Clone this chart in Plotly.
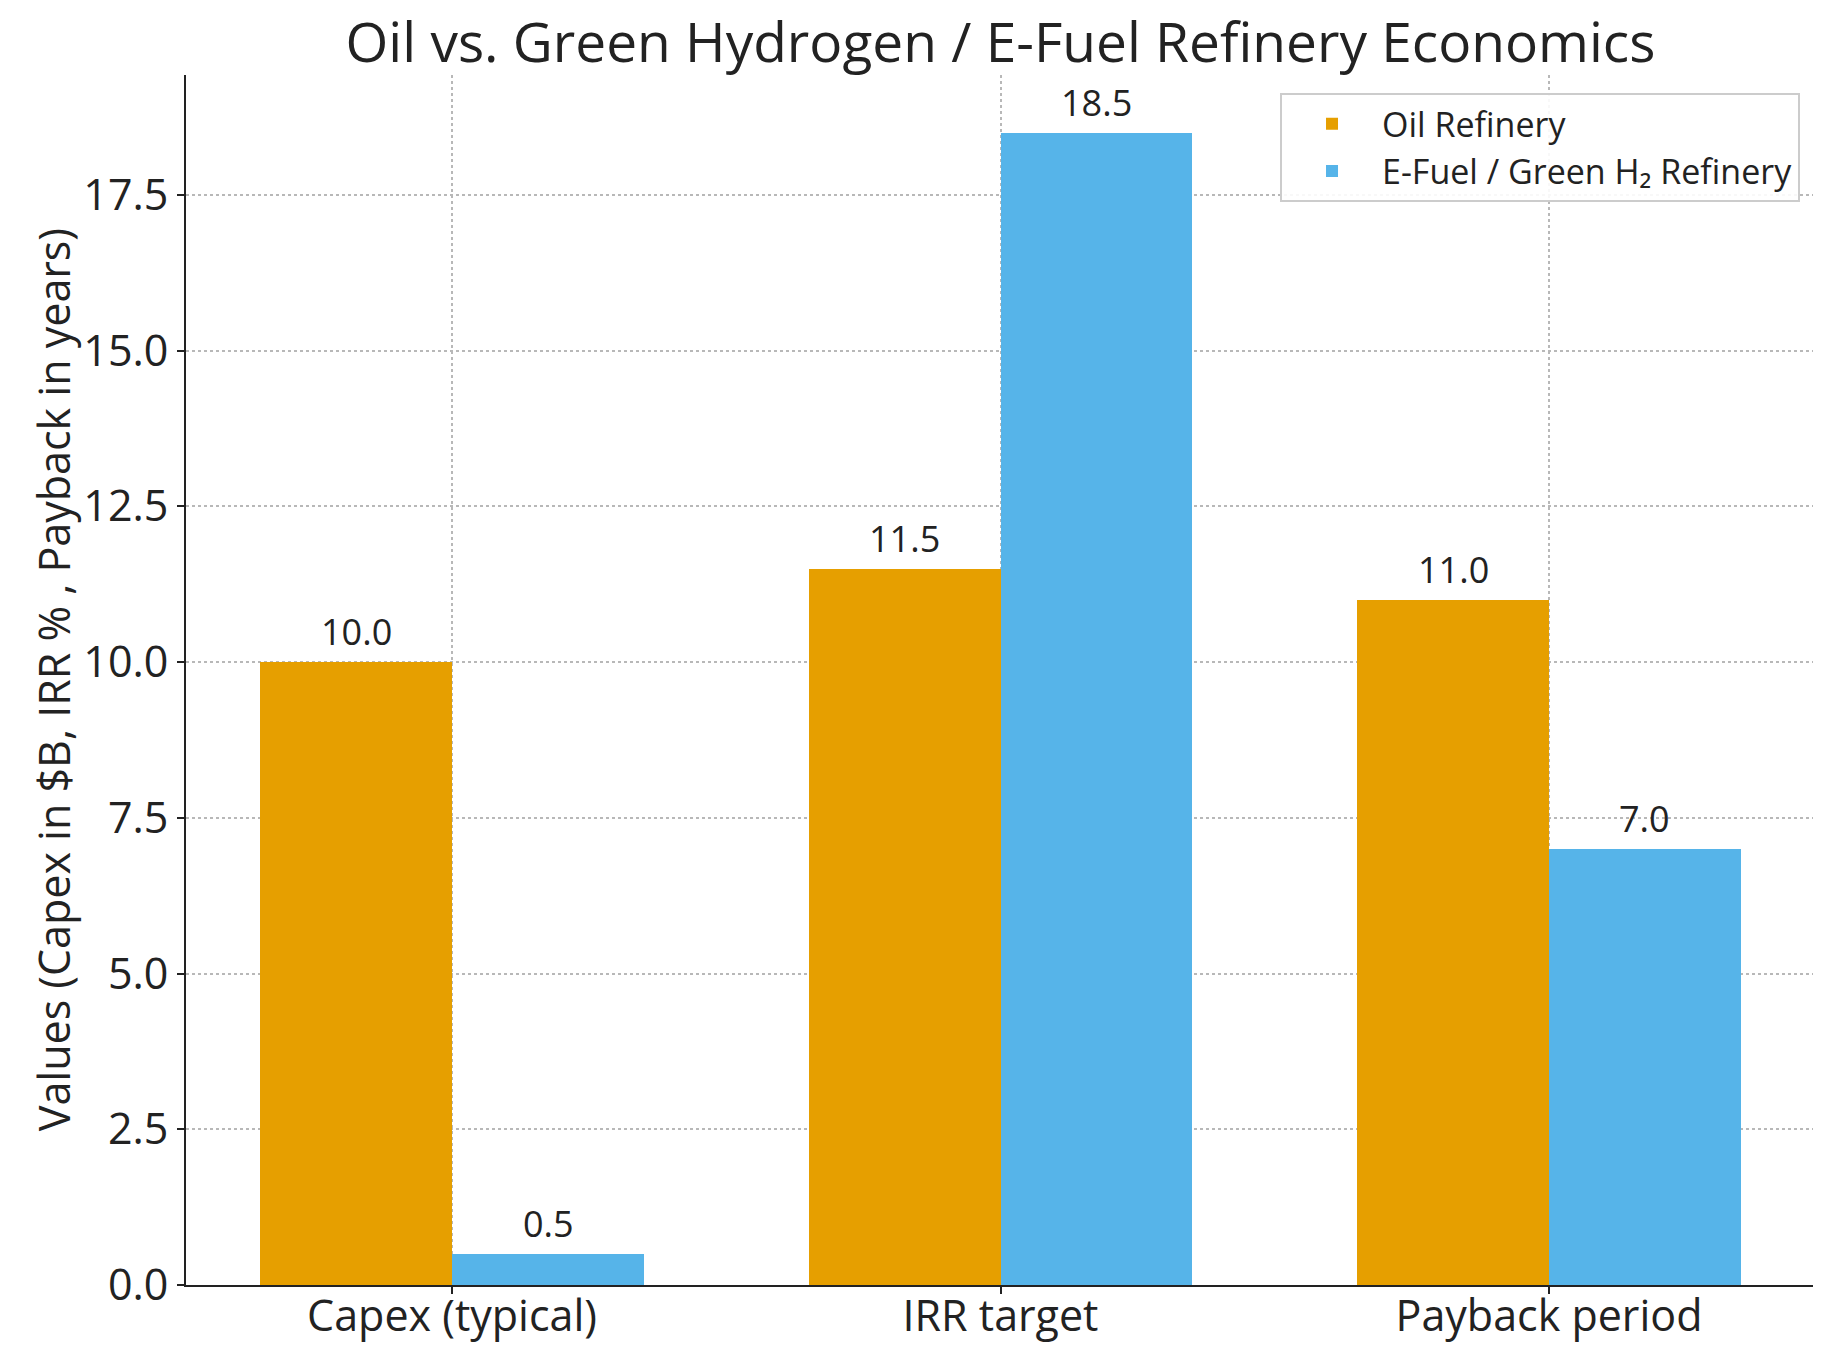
import plotly.graph_objects as go

categories = ["Capex (typical)", "IRR target", "Payback period"]
oil_values = [10.0, 11.5, 11.0]
efuel_values = [0.5, 18.5, 7.0]
series_names = ["Oil Refinery", "E-Fuel / Green H₂ Refinery"]
y_ticks = [0.0, 2.5, 5.0, 7.5, 10.0, 12.5, 15.0, 17.5]

ORANGE = "#E69F00"
BLUE = "#56B4E9"
FONT = "Open Sans"
BAR_W = 0.35

x_pos = list(range(len(categories)))

fig = go.Figure()
fig.add_trace(go.Bar(x=x_pos, y=oil_values, width=BAR_W, offset=-BAR_W,
                     name=series_names[0], marker=dict(color=ORANGE, line=dict(width=0))))
fig.add_trace(go.Bar(x=x_pos, y=efuel_values, width=BAR_W, offset=0,
                     name=series_names[1], marker=dict(color=BLUE, line=dict(width=0))))

annotations = []
for i, v in enumerate(oil_values):
    annotations.append(dict(x=x_pos[i] - BAR_W / 2, y=v, xref="x", yref="y",
                            text=f"{v:.1f}", showarrow=False, yanchor="bottom",
                            yshift=4, font=dict(family=FONT, size=36, color="#222")))
for i, v in enumerate(efuel_values):
    annotations.append(dict(x=x_pos[i] + BAR_W / 2, y=v, xref="x", yref="y",
                            text=f"{v:.1f}", showarrow=False, yanchor="bottom",
                            yshift=4, font=dict(family=FONT, size=36, color="#222")))
annotations.append(dict(x=-0.0815, y=0.5, xref="paper", yref="paper",
                        text="Values (Capex in $B, IRR % , Payback in years)",
                        textangle=-90, showarrow=False, xanchor="center", yanchor="middle",
                        font=dict(family=FONT, size=43, color="#222")))

fig.update_layout(
    width=1821, height=1345,
    margin=dict(l=178, r=14, t=67, b=68, autoexpand=False),
    paper_bgcolor="white", plot_bgcolor="white",
    title=dict(text="Oil vs. Green Hydrogen / E-Fuel Refinery Economics",
               x=0.5, xref="paper", xanchor="center", y=1 - 35 / 1345, yanchor="middle",
               font=dict(family=FONT, size=55, color="#222")),
    font=dict(family=FONT, color="#222"),
    showlegend=True,
    legend=dict(x=0.9908, y=0.985, xanchor="right", yanchor="top",
                bgcolor="rgba(255,255,255,0.9)", bordercolor="#cccccc", borderwidth=2,
                font=dict(family=FONT, size=34, color="#222"), itemwidth=90,
                tracegroupgap=2),
    annotations=annotations,
    bargap=0,
)
fig.update_xaxes(range=[-0.485, 2.485], tickvals=x_pos, ticktext=categories,
                 showline=True, linecolor="#222", linewidth=2, automargin=False,
                 ticks="outside", ticklen=7, tickcolor="#222", tickwidth=2,
                 ticklabelstandoff=-15,
                 showgrid=True, gridcolor="#b8b8b8", griddash="dot", gridwidth=1.5,
                 zeroline=False, tickfont=dict(family=FONT, size=43, color="#222"))
fig.update_yaxes(range=[0, 19.425], tickvals=y_ticks, ticktext=[f"{t:.1f}" for t in y_ticks],
                 showline=True, linecolor="#222", linewidth=2, automargin=False,
                 ticks="outside", ticklen=7, tickcolor="#222", tickwidth=2,
                 showgrid=True, gridcolor="#b8b8b8", griddash="dot", gridwidth=1.5,
                 zeroline=False, tickfont=dict(family=FONT, size=43, color="#222"))

fig.write_html("out.html")
